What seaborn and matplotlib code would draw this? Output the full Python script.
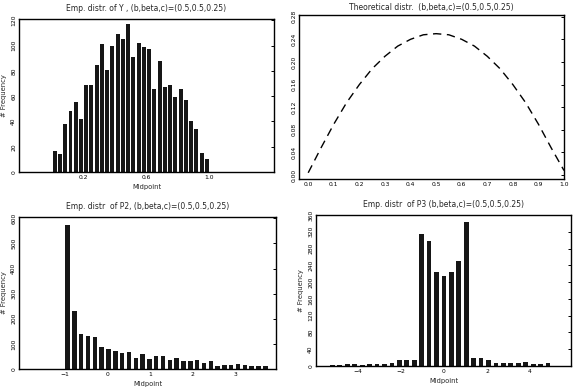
import matplotlib
matplotlib.use("Agg")
import matplotlib.pyplot as plt
import seaborn as sns
import pandas as pd

# ---------------- data ----------------
# Panel 1: empirical distribution of Y
y_mid = [0.017, 0.05, 0.083, 0.117, 0.15, 0.183, 0.217, 0.25, 0.283, 0.317,
         0.35, 0.383, 0.417, 0.45, 0.483, 0.517, 0.55, 0.583, 0.617, 0.65,
         0.683, 0.717, 0.75, 0.783, 0.817, 0.85, 0.883, 0.917, 0.95, 0.983]
y_freq = [17, 14, 38, 48, 55, 42, 69, 69, 85, 101,
          81, 100, 109, 105, 117, 91, 102, 99, 97, 66,
          88, 67, 69, 59, 66, 57, 40, 34, 15, 10]

# Panel 2: theoretical distribution
theo_x = [0.0, 0.05, 0.1, 0.15, 0.2, 0.25, 0.3, 0.35, 0.4, 0.45, 0.5,
          0.55, 0.6, 0.65, 0.7, 0.75, 0.8, 0.85, 0.9, 0.95, 1.0]
theo_y = [0.004, 0.048, 0.09, 0.128, 0.16, 0.188, 0.21, 0.228, 0.24, 0.248, 0.25,
          0.248, 0.24, 0.228, 0.21, 0.188, 0.16, 0.128, 0.09, 0.048, 0.008]

# Panel 3: empirical distribution of P2
p2_mid = [-0.94, -0.78, -0.62, -0.46, -0.30, -0.14, 0.02, 0.18, 0.34, 0.50,
          0.66, 0.82, 0.98, 1.14, 1.30, 1.46, 1.62, 1.78, 1.94, 2.10,
          2.26, 2.42, 2.58, 2.74, 2.90, 3.06, 3.22, 3.38, 3.54, 3.70]
p2_freq = [575, 232, 138, 131, 127, 89, 78, 73, 65, 66,
           42, 60, 38, 53, 52, 36, 45, 33, 30, 36,
           25, 32, 13, 15, 17, 18, 15, 13, 13, 10]

# Panel 4: empirical distribution of P3
p3_mid = [-5.52, -5.175, -4.83, -4.485, -4.14, -3.795, -3.45, -3.105, -2.76, -2.415,
          -2.07, -1.725, -1.38, -1.035, -0.69, -0.345, 0.0, 0.345, 0.69, 1.035,
          1.38, 1.725, 2.07, 2.415, 2.76, 3.105, 3.45, 3.795, 4.14, 4.485, 4.83]
p3_freq = [1, 1.5, 2.5, 4, 4, 3, 4, 5, 5, 8,
           14, 14, 14, 314, 298, 224, 214, 224, 251, 343,
           19, 19, 15, 8, 8, 6, 6, 10, 5, 5, 6]

titles = ["Emp. distr. of Y , (b,beta,c)=(0.5,0.5,0.25)",
          "Theoretical distr.  (b,beta,c)=(0.5,0.5,0.25)",
          "Emp. distr  of P2, (b,beta,c)=(0.5,0.5,0.25)",
          "Emp. distr  of P3 (b,beta,c)=(0.5,0.5,0.25)"]
xlabel = "Midpoint"
ylabel = "# Frequency"

y_xticks = [0.2, 0.6, 1.0]
y_yticks = [0, 20, 40, 60, 80, 100, 120]
t_xticks = [0.0, 0.1, 0.2, 0.3, 0.4, 0.5, 0.6, 0.7, 0.8, 0.9, 1.0]
t_yticks = [0.00, 0.04, 0.08, 0.12, 0.16, 0.20, 0.24, 0.28]
p2_xticks = [-1, 0, 1, 2, 3]
p2_yticks = [0, 100, 200, 300, 400, 500, 600]
p3_xticks = [-4, -2, 0, 2, 4]
p3_yticks = [0, 40, 80, 120, 160, 200, 240, 280, 320, 360]

# ---------------- style ----------------
sns.set_style("white")
plt.rcParams["font.family"] = ["DejaVu Sans"]
plt.rcParams["patch.force_edgecolor"] = False
BAR = "#161616"
TFS = 5.5
TKS = 4.3
LFS = 4.9

W, H = 573, 392
fig = plt.figure(figsize=(W / 100, H / 100), dpi=100)


def axes_px(l, r, t, b):
    return fig.add_axes([l / W, (H - b) / H, (r - l) / W, (b - t) / H])


def style(ax, title, xl, yl, tpad=6):
    for s in ax.spines.values():
        s.set_visible(True)
        s.set_color("black")
        s.set_linewidth(1.0)
    ax.tick_params(axis="both", which="major", direction="in", length=2.5,
                   width=0.7, labelsize=TKS, pad=2, right=True, top=False,
                   colors="black")
    ax.tick_params(axis="y", labelrotation=90)
    for lab in ax.get_yticklabels():
        lab.set_va("center")
    ax.set_title(title, fontsize=TFS, pad=tpad)
    ax.set_xlabel(xl, fontsize=LFS, labelpad=3)
    ax.set_ylabel(yl, fontsize=LFS, labelpad=3)


bar_kw = dict(native_scale=True, color=BAR, saturation=1, errorbar=None,
              edgecolor=BAR, linewidth=0)

# Panel 1
ax1 = axes_px(19, 274, 19, 172)
df1 = pd.DataFrame({"mid": y_mid, "freq": y_freq})
sns.barplot(data=df1, x="mid", y="freq", width=0.75, ax=ax1, **bar_kw)
ax1.set_xlim(-0.21, 1.41)
ax1.set_ylim(0, 121)
ax1.set_xticks(y_xticks)
ax1.set_xticklabels([f"{v:.1f}" for v in y_xticks])
ax1.set_yticks(y_yticks)
ax1.set_yticklabels([str(v) for v in y_yticks])
style(ax1, titles[0], xlabel, ylabel)

# Panel 2
ax2 = axes_px(299, 564, 15, 179)
df2 = pd.DataFrame({"x": theo_x, "y": theo_y})
sns.lineplot(data=df2, x="x", y="y", color="black", linewidth=1.0,
             linestyle=(0, (6, 4)), ax=ax2)
ax2.set_xlim(-0.036, 1.0)
ax2.set_ylim(-0.007, 0.283)
ax2.set_xticks(t_xticks)
ax2.set_xticklabels([f"{v:.1f}" for v in t_xticks])
ax2.set_yticks(t_yticks)
ax2.set_yticklabels([f"{v:.2f}" for v in t_yticks])
style(ax2, titles[1], "", "", tpad=3.5)

# Panel 3
ax3 = axes_px(19, 276, 217, 369)
df3 = pd.DataFrame({"mid": p2_mid, "freq": p2_freq})
sns.barplot(data=df3, x="mid", y="freq", width=0.65, ax=ax3, **bar_kw)
ax3.set_xlim(-2.08, 3.95)
ax3.set_ylim(0, 605)
ax3.set_xticks(p2_xticks)
ax3.set_xticklabels(["\u22121" if v == -1 else str(v) for v in p2_xticks])
ax3.set_yticks(p2_yticks)
ax3.set_yticklabels([str(v) for v in p2_yticks])
style(ax3, titles[2], xlabel, ylabel)

# Panel 4
ax4 = axes_px(316, 571, 215, 366)
df4 = pd.DataFrame({"mid": p3_mid, "freq": p3_freq})
sns.barplot(data=df4, x="mid", y="freq", width=0.65, ax=ax4, **bar_kw)
ax4.set_xlim(-5.94, 5.9)
ax4.set_ylim(0, 360)
ax4.set_xticks(p3_xticks)
ax4.set_xticklabels([("\u2212" + str(-v)) if v < 0 else str(v) for v in p3_xticks])
ax4.set_yticks(p3_yticks)
ax4.set_yticklabels([str(v) for v in p3_yticks])
style(ax4, titles[3], xlabel, ylabel)

fig.savefig("out.png", dpi=100)
